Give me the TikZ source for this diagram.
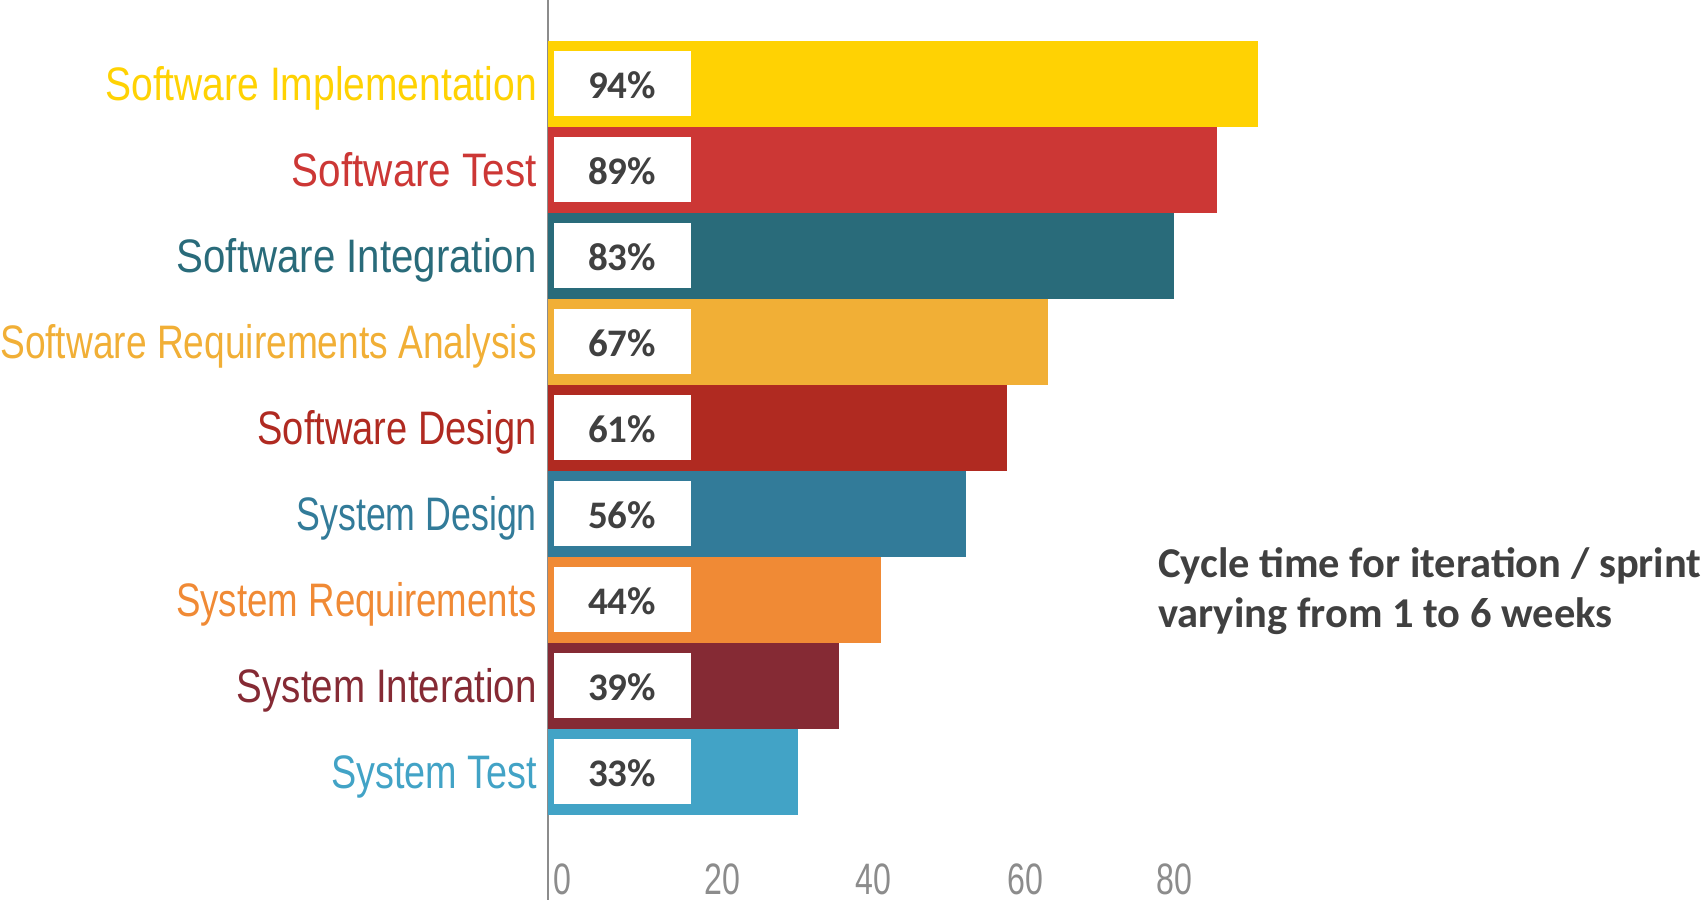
\documentclass[tikz,border=0pt]{standalone}
\usepackage{fontspec}
\usepackage{graphicx}
\setmainfont{Carlito}
\newfontfamily\condfont{Liberation Sans}
\newfontfamily\tickfont[FakeStretch=0.73]{Liberation Sans}
\definecolor{cImpl}{HTML}{FFD203}
\definecolor{cTest}{HTML}{CC3735}
\definecolor{cInteg}{HTML}{296B7A}
\definecolor{cReqA}{HTML}{F1AF36}
\definecolor{cSwDes}{HTML}{B02A21}
\definecolor{cSysDes}{HTML}{327B99}
\definecolor{cSysReq}{HTML}{F08A35}
\definecolor{cSysInt}{HTML}{852A34}
\definecolor{cSysTest}{HTML}{42A3C6}
\definecolor{txtdark}{HTML}{404040}
\definecolor{axisgray}{HTML}{8C8C8C}
\tikzset{
  barbox/.style={rectangle, inner sep=0pt, outer sep=0pt, anchor=north west, minimum height=86pt},
  valbox/.style={rectangle, fill=white, inner sep=0pt, outer sep=0pt, minimum width=137pt, minimum height=65pt},
  valtext/.style={inner sep=0pt, text=txtdark, font=\bfseries\fontsize{39}{40}\selectfont},
  catlabel/.style={anchor=base east, inner sep=0pt, font=\condfont\fontsize{47}{50}\selectfont},
  ticklabel/.style={anchor=base, inner sep=0pt, text=axisgray, font=\tickfont\fontsize{44}{46}\selectfont},
  titletext/.style={anchor=base west, inner sep=0pt, text=txtdark, font=\bfseries\fontsize{42.5}{50}\selectfont},
  axisline/.style={draw=axisgray, line width=2.5pt}
}
\begin{document}
\begin{tikzpicture}[x=1pt,y=-1pt]
\useasboundingbox (0,0) rectangle (1705,900);
\coordinate (axtop) at (548,0);
\coordinate (axbot) at (548,900);
\draw[axisline] (axtop) -- (axbot);
\foreach \i/\w/\c/\p/\s/\lab in {
  1/710/cImpl/94/0.83/Software Implementation,
  2/669/cTest/89/0.86/Software Test,
  3/626/cInteg/83/0.856/Software Integration,
  4/500/cReqA/67/0.79/Software Requirements Analysis,
  5/459/cSwDes/61/0.81/Software Design,
  6/418/cSysDes/56/0.76/System Design,
  7/333/cSysReq/44/0.78/System Requirements,
  8/291/cSysInt/39/0.82/System Interation,
  9/250/cSysTest/33/0.804/System Test}{
  \pgfmathsetmacro{\t}{41+86*(\i-1)}
  \pgfmathsetmacro{\vy}{\t+42}
  \pgfmathsetmacro{\ty}{\t+44}
  \pgfmathsetmacro{\by}{\t+59}
  \node[barbox, fill=\c, minimum width=\w pt] (bar\i) at (548,\t) {};
  \node[valbox] (val\i) at (622,\vy) {};
  \node[valtext] (pct\i) at (622,\ty) {\p\%};
  \node[catlabel, text=\c] (lab\i) at (537,\by) {\scalebox{\s}[1]{\lab}};
}
\node[ticklabel] (t0) at (562,894) {0};
\node[ticklabel] (t20) at (722,894) {20};
\node[ticklabel] (t40) at (873,894) {40};
\node[ticklabel] (t60) at (1025,894) {60};
\node[ticklabel] (t80) at (1174,894) {80};
\node[titletext] (title1) at (1158,577) {Cycle time for iteration / sprint};
\node[titletext] (title2) at (1158,627) {varying from 1 to 6 weeks};
\end{tikzpicture}
\end{document}
